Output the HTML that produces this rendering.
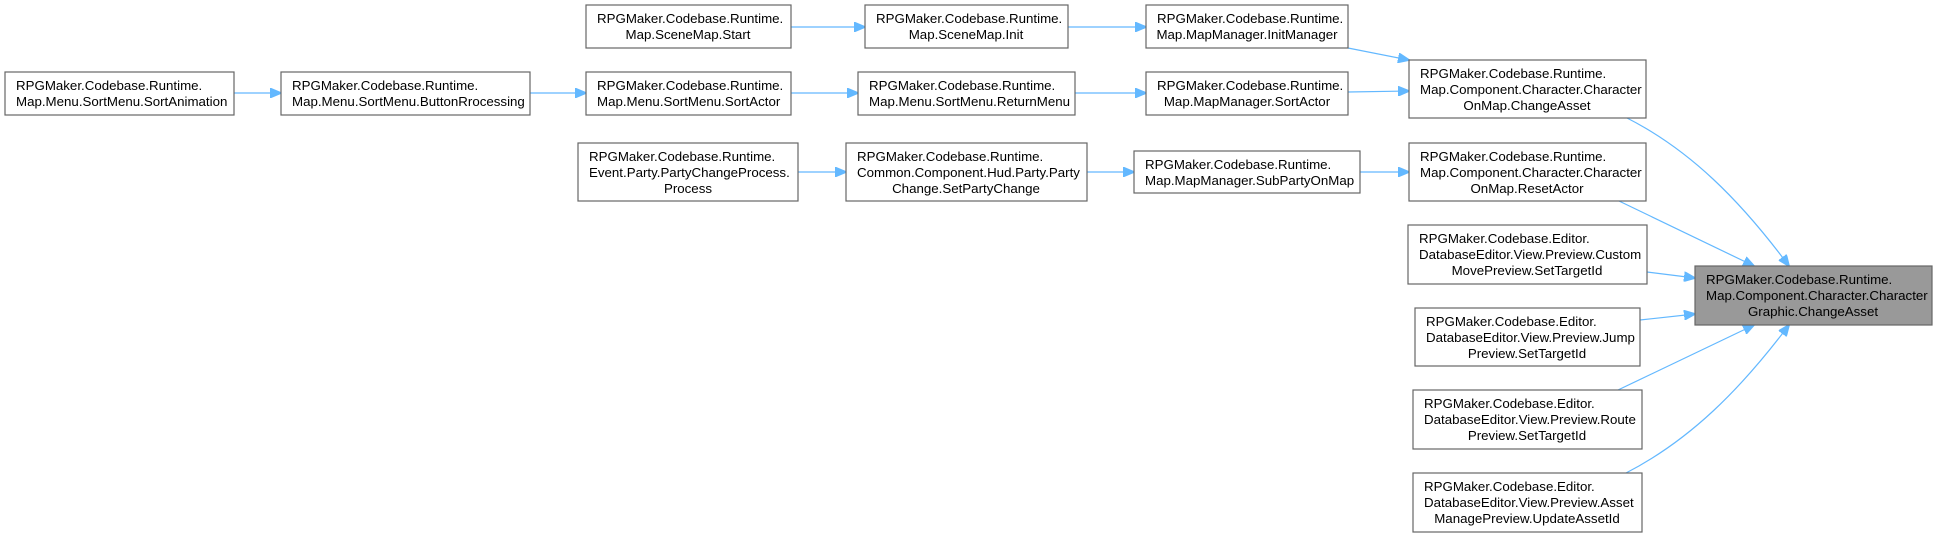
<!DOCTYPE html>
<html><head><meta charset="utf-8"><style>
html,body{margin:0;padding:0;background:#fff;}
svg{display:block;}
text{font-family:"Liberation Sans",Arial,sans-serif;font-size:13.3px;fill:#000;}
.b{fill:#fff;stroke:#666;stroke-width:1.2;}
.m{fill:#999;stroke:#666;stroke-width:1.2;}
.e{fill:none;stroke:#63b8ff;stroke-width:1.2;}
.a{fill:#63b8ff;stroke:#63b8ff;}
</style></head><body>
<svg width="1937" height="537" viewBox="0 0 1937 537" xmlns="http://www.w3.org/2000/svg">
<defs><marker id="ar" markerWidth="12" markerHeight="10" refX="11" refY="5" orient="auto" markerUnits="userSpaceOnUse"><path d="M0,0 L12,5 L0,10 Z" class="a"/></marker></defs>

<g class="e">
<path d="M234,93 L281,93" marker-end="url(#ar)"/>
<path d="M530,93 L586,93" marker-end="url(#ar)"/>
<path d="M791,27 L865,27" marker-end="url(#ar)"/>
<path d="M1068,27 L1146,27" marker-end="url(#ar)"/>
<path d="M791,93 L858,93" marker-end="url(#ar)"/>
<path d="M1075,93 L1146,93" marker-end="url(#ar)"/>
<path d="M798,172 L846,172" marker-end="url(#ar)"/>
<path d="M1087,172 L1134,172" marker-end="url(#ar)"/>
<path d="M1348,48 L1409,60" marker-end="url(#ar)"/>
<path d="M1348,92 L1409,91" marker-end="url(#ar)"/>
<path d="M1360,172 L1409,172" marker-end="url(#ar)"/>
<path d="M1627,118 C1690,150 1740,200 1789,266" marker-end="url(#ar)"/>
<path d="M1619,201 L1754,266" marker-end="url(#ar)"/>
<path d="M1647,272 L1695,278" marker-end="url(#ar)"/>
<path d="M1640,320 L1695,314" marker-end="url(#ar)"/>
<path d="M1618,390 L1754,325" marker-end="url(#ar)"/>
<path d="M1626,473 C1690,440 1740,390 1789,325" marker-end="url(#ar)"/>
</g>

<rect class="b" x="5" y="72" width="229" height="43"/>
<text x="16" y="90">RPGMaker.Codebase.Runtime.</text><text x="16" y="106">Map.Menu.SortMenu.SortAnimation</text>

<rect class="b" x="281" y="72" width="249" height="43"/>
<text x="292" y="90">RPGMaker.Codebase.Runtime.</text><text x="292" y="106">Map.Menu.SortMenu.ButtonRrocessing</text>

<rect class="b" x="586" y="5" width="205" height="43"/>
<text x="597" y="23">RPGMaker.Codebase.Runtime.</text><text x="688" y="39" text-anchor="middle">Map.SceneMap.Start</text>

<rect class="b" x="586" y="72" width="205" height="43"/>
<text x="597" y="90">RPGMaker.Codebase.Runtime.</text><text x="597" y="106">Map.Menu.SortMenu.SortActor</text>

<rect class="b" x="578" y="143" width="220" height="58"/>
<text x="589" y="161">RPGMaker.Codebase.Runtime.</text><text x="589" y="177">Event.Party.PartyChangeProcess.</text><text x="688" y="193" text-anchor="middle">Process</text>

<rect class="b" x="865" y="5" width="203" height="43"/>
<text x="876" y="23">RPGMaker.Codebase.Runtime.</text><text x="966" y="39" text-anchor="middle">Map.SceneMap.Init</text>

<rect class="b" x="858" y="72" width="217" height="43"/>
<text x="869" y="90">RPGMaker.Codebase.Runtime.</text><text x="869" y="106">Map.Menu.SortMenu.ReturnMenu</text>

<rect class="b" x="846" y="143" width="241" height="58"/>
<text x="857" y="161">RPGMaker.Codebase.Runtime.</text><text x="857" y="177">Common.Component.Hud.Party.Party</text><text x="966" y="193" text-anchor="middle">Change.SetPartyChange</text>

<rect class="b" x="1146" y="5" width="202" height="43"/>
<text x="1157" y="23">RPGMaker.Codebase.Runtime.</text><text x="1247" y="39" text-anchor="middle">Map.MapManager.InitManager</text>

<rect class="b" x="1146" y="72" width="202" height="43"/>
<text x="1157" y="90">RPGMaker.Codebase.Runtime.</text><text x="1247" y="106" text-anchor="middle">Map.MapManager.SortActor</text>

<rect class="b" x="1134" y="151" width="226" height="42"/>
<text x="1145" y="169">RPGMaker.Codebase.Runtime.</text><text x="1145" y="185">Map.MapManager.SubPartyOnMap</text>

<rect class="b" x="1409" y="60" width="237" height="58"/>
<text x="1420" y="78">RPGMaker.Codebase.Runtime.</text><text x="1420" y="94">Map.Component.Character.Character</text><text x="1527" y="110" text-anchor="middle">OnMap.ChangeAsset</text>

<rect class="b" x="1409" y="143" width="237" height="58"/>
<text x="1420" y="161">RPGMaker.Codebase.Runtime.</text><text x="1420" y="177">Map.Component.Character.Character</text><text x="1527" y="193" text-anchor="middle">OnMap.ResetActor</text>

<rect class="b" x="1408" y="225" width="239" height="59"/>
<text x="1419" y="243">RPGMaker.Codebase.Editor.</text><text x="1419" y="259">DatabaseEditor.View.Preview.Custom</text><text x="1527" y="275" text-anchor="middle">MovePreview.SetTargetId</text>

<rect class="b" x="1415" y="308" width="225" height="58"/>
<text x="1426" y="326">RPGMaker.Codebase.Editor.</text><text x="1426" y="342">DatabaseEditor.View.Preview.Jump</text><text x="1527" y="358" text-anchor="middle">Preview.SetTargetId</text>

<rect class="b" x="1413" y="390" width="229" height="59"/>
<text x="1424" y="408">RPGMaker.Codebase.Editor.</text><text x="1424" y="424">DatabaseEditor.View.Preview.Route</text><text x="1527" y="440" text-anchor="middle">Preview.SetTargetId</text>

<rect class="b" x="1413" y="473" width="229" height="59"/>
<text x="1424" y="491">RPGMaker.Codebase.Editor.</text><text x="1424" y="507">DatabaseEditor.View.Preview.Asset</text><text x="1527" y="523" text-anchor="middle">ManagePreview.UpdateAssetId</text>

<rect class="m" x="1695" y="266" width="237" height="59"/>
<text x="1706" y="284">RPGMaker.Codebase.Runtime.</text><text x="1706" y="300">Map.Component.Character.Character</text><text x="1813" y="316" text-anchor="middle">Graphic.ChangeAsset</text>
</svg>
</body></html>
